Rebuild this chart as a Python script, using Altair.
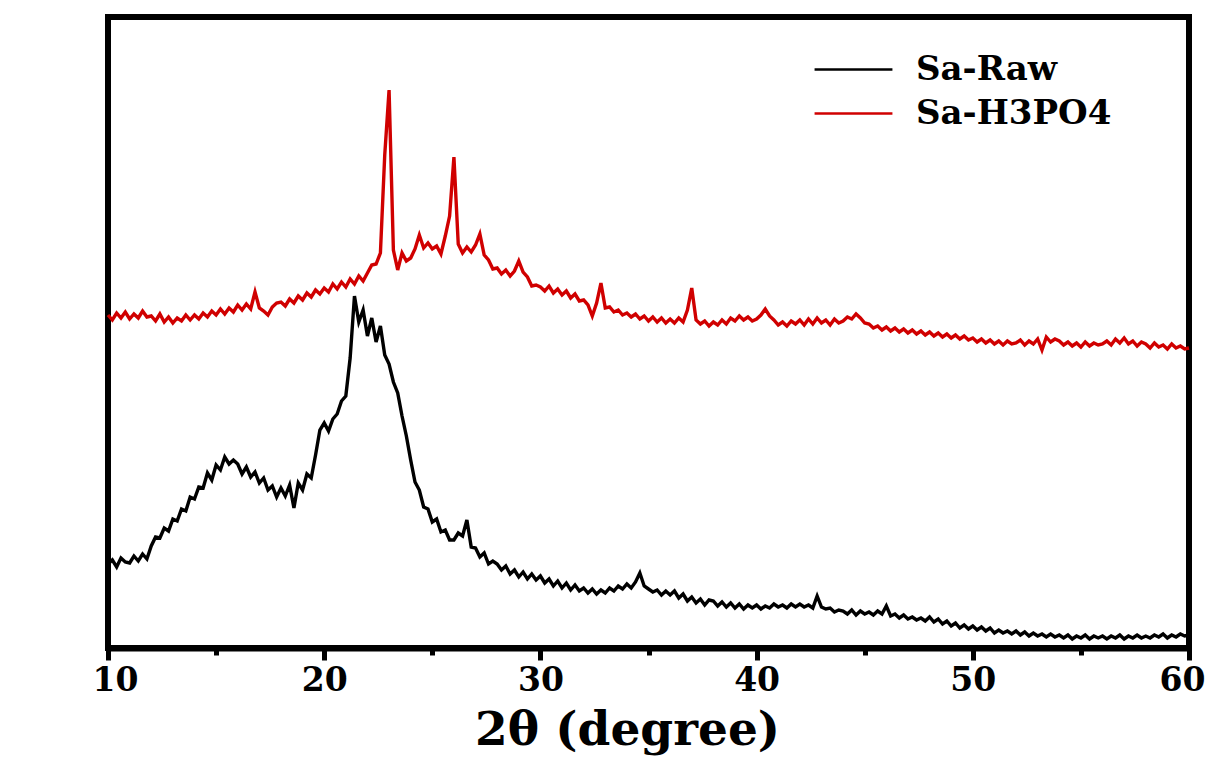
import altair as alt
import pandas as pd

# 2-theta sampling grid (degrees)
theta_start = 10.0
theta_step = 0.2

# Intensity (a.u.), one value per 0.2 degree from 10 to 60
sa_raw = [
    84, 88, 81, 90, 86, 85, 92, 87, 94, 89,
    102, 111, 110, 120, 117, 129, 127, 139, 137, 151,
    149, 161, 160, 175, 168, 183, 178, 191, 184, 188,
    184, 174, 181, 171, 176, 165, 170, 158, 162, 151,
    160, 152, 163, 140, 165, 158, 174, 170, 193, 218,
    225, 217, 229, 234, 247, 252, 290, 352, 326, 338,
    312, 330, 306, 322, 293, 284, 266, 255, 232, 212,
    188, 166, 158, 141, 139, 126, 129, 116, 118, 108,
    108, 115, 112, 128, 101, 100, 91, 95, 84, 87,
    84, 78, 82, 74, 78, 71, 76, 69, 74, 68,
    72, 65, 69, 62, 67, 60, 65, 58, 63, 57,
    60, 55, 59, 54, 58, 55, 60, 57, 62, 59,
    64, 60, 66, 75, 62, 59, 56, 58, 53, 57,
    53, 57, 50, 54, 47, 51, 45, 49, 43, 48,
    47, 42, 46, 41, 45, 40, 44, 39, 43, 40,
    43, 39, 42, 40, 44, 41, 43, 40, 44, 41,
    44, 41, 43, 40, 52, 41, 39, 40, 36, 38,
    37, 34, 38, 33, 37, 34, 36, 33, 37, 34,
    42, 32, 34, 30, 33, 29, 31, 28, 30, 27,
    31, 26, 29, 24, 27, 22, 25, 20, 23, 19,
    22, 18, 21, 17, 20, 15, 18, 15, 17, 14,
    17, 13, 16, 12, 15, 12, 14, 11, 14, 11,
    13, 10, 13, 9, 12, 10, 13, 9, 12, 10,
    12, 9, 12, 10, 13, 9, 12, 10, 13, 10,
    12, 10, 13, 11, 14, 10, 13, 11, 14, 12,
    13,
]

sa_h3po4 = [
    333, 328, 335, 330, 336, 329, 334, 330, 337, 331,
    332, 327, 334, 326, 331, 325, 330, 327, 333, 328,
    333, 329, 335, 331, 337, 333, 339, 334, 340, 336,
    343, 338, 344, 339, 356, 340, 337, 333, 341, 345,
    346, 342, 349, 345, 352, 348, 355, 351, 358, 354,
    360, 356, 364, 359, 366, 361, 369, 364, 372, 367,
    375, 383, 384, 395, 493, 558, 398, 378, 395, 387,
    390, 399, 413, 400, 405, 399, 402, 394, 412, 432,
    491, 404, 395, 401, 396, 403, 414, 393, 388, 379,
    380, 374, 378, 372, 377, 387, 376, 371, 362, 363,
    361, 357, 362, 355, 359, 353, 357, 350, 354, 347,
    348, 343, 332, 345, 365, 340, 341, 336, 338, 333,
    335, 331, 334, 329, 332, 327, 331, 326, 330, 325,
    329, 325, 330, 326, 338, 360, 328, 324, 327, 322,
    326, 323, 328, 324, 330, 327, 332, 328, 331, 327,
    329, 333, 339, 332, 328, 323, 326, 322, 327, 324,
    328, 323, 329, 324, 330, 325, 328, 323, 329, 325,
    327, 331, 329, 334, 330, 325, 324, 320, 322, 318,
    321, 317, 320, 316, 319, 315, 318, 314, 317, 313,
    316, 312, 315, 311, 314, 310, 313, 309, 312, 308,
    310, 306, 309, 305, 308, 304, 307, 303, 307, 304,
    305, 308, 303, 307, 304, 309, 298, 311, 306, 309,
    307, 303, 306, 302, 305, 301, 306, 302, 305, 303,
    304, 307, 303, 309, 305, 310, 304, 307, 302, 306,
    304, 300, 305, 301, 303, 299, 304, 300, 302, 299,
    300,
]

series_names = ["Sa-Raw", "Sa-H3PO4"]
series_colors = ["#000000", "#d00000"]
x_major_ticks = [10, 20, 30, 40, 50, 60]
x_minor_ticks = [15, 25, 35, 45, 55]

rows = []
for name, vals in zip(series_names, [sa_raw, sa_h3po4]):
    for i, v in enumerate(vals):
        rows.append({"theta": round(theta_start + i * theta_step, 1),
                     "intensity": v, "sample": name})
df = pd.DataFrame(rows)

x_scale = alt.Scale(domain=[10, 60], nice=False, zero=False)
y_scale = alt.Scale(domain=[0, 631], nice=False, zero=False)

x_axis = alt.Axis(
    values=x_major_ticks, orient="bottom",
    tickSize=12, tickWidth=5, tickColor="black",
    domainWidth=6, domainColor="black",
    grid=False,
    labelFont="DejaVu Serif", labelFontWeight="bold", labelFontSize=33,
    labelColor="black", labelPadding=4, labelFlush=True, labelFlushOffset=16,
    labelOverlap=False,
    title="2θ (degree)", titleFont="DejaVu Serif", titleFontWeight="bold",
    titleFontSize=47, titleColor="black",
    titleX=519, titleY=96, titleBaseline="alphabetic", titleAlign="center",
)

x_minor_axis = alt.Axis(
    values=x_minor_ticks, orient="bottom",
    tickSize=7, tickWidth=5, tickColor="black",
    domain=False, labels=False, grid=False, title=None,
)

y_axis = alt.Axis(
    labels=False, ticks=False, grid=False,
    domainWidth=6, domainColor="black",
    title="Intensity (a.u.)", titleFont="Liberation Serif", titleFontWeight="bold",
    titleFontSize=54, titleColor="black",
    titleX=-43, titleY=295, titleBaseline="alphabetic", titleAlign="center",
)

legend = alt.Legend(
    title=None, orient="none", legendX=727, legendY=34,
    symbolType="M-2.29,0H2.29", symbolSize=1156, symbolStrokeWidth=2.5,
    labelFont="DejaVu Serif", labelFontWeight="bold", labelFontSize=34,
    labelColor="black", labelOffset=44, rowPadding=8, padding=0, labelLimit=400,
)

lines = alt.Chart(df).mark_line(strokeWidth=3.4).encode(
    x=alt.X("theta:Q", scale=x_scale, axis=x_axis),
    y=alt.Y("intensity:Q", scale=y_scale, axis=y_axis),
    color=alt.Color("sample:N", scale=alt.Scale(domain=series_names, range=series_colors),
                    sort=series_names, legend=legend),
)

minor = alt.Chart(df).mark_line(opacity=0).encode(
    x=alt.X("theta:Q", scale=x_scale, axis=x_minor_axis),
    y=alt.Y("intensity:Q", scale=y_scale, axis=None),
    detail="sample:N",
)

chart = alt.layer(lines, minor).resolve_axis(x="independent").properties(
    width=1081, height=631,
    autosize=alt.AutoSizeParams(type="none"),
    padding={"left": 100, "top": 9, "right": 16, "bottom": 113},
).configure(
    background="white",
    view=alt.ViewConfig(stroke="black", strokeWidth=6),
)

chart.save("out.html", embed_options={"renderer": "svg", "actions": False})
